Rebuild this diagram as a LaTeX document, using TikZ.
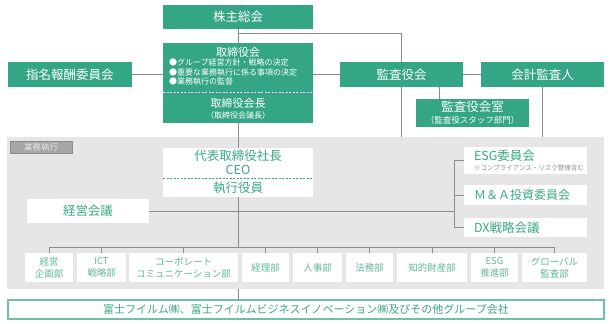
\documentclass[tikz,border=0pt]{standalone}
\usepackage{fontspec}
\setmainfont{Noto Sans CJK JP}
\definecolor{gfill}{RGB}{52,166,133}
\definecolor{gtext}{RGB}{58,168,134}
\definecolor{dtext}{RGB}{98,184,154}
\definecolor{lgray}{RGB}{140,140,140}
\definecolor{bggray}{RGB}{230,230,230}
\definecolor{lblgray}{RGB}{166,166,166}
\definecolor{cborder}{RGB}{110,194,163}
\newcommand{\fs}[1]{\fontsize{#1}{#1}\selectfont}
\newcommand{\fsb}[2]{\fontsize{#1}{#2}\selectfont}
\tikzset{
  box/.style={anchor=north west, inner sep=0pt, outer sep=0pt},
  gbox/.style={box, fill=gfill, text=white},
  wbox/.style={box, fill=white, text=gtext},
  dept/.style={box, fill=white, text=dtext, align=center, font=\fsb{9.5}{12}},
  conn/.style={draw=lgray, line width=1pt},
  txt/.style={inner sep=0pt, outer sep=0pt},
}
\begin{document}
\begin{tikzpicture}[x=1pt,y=-1pt]
\useasboundingbox (0,0) rectangle (611,324);
% gray area
\node[box, fill=bggray, minimum width=597, minimum height=152] (bg) at (7,137) {};
\node[box, fill=lblgray, draw=lgray, line width=0.6pt, minimum width=62, minimum height=12, text=bggray, font=\fs{8.5}] (lbl) at (10,141) {業務執行};

% top boxes
\node[gbox, minimum width=150, minimum height=24, font=\fs{12.5}] (kabu) at (163,5) {株主総会};
\node[gbox, minimum width=150, minimum height=80] (tori) at (163,43) {};
\node[gbox, minimum width=124, minimum height=25, font=\fs{12.5}] (shimei) at (8,62) {指名報酬委員会};
\node[gbox, minimum width=123, minimum height=25, font=\fs{12.5}] (kansa) at (340,62) {監査役会};
\node[gbox, minimum width=123, minimum height=25, font=\fs{12.5}] (kaikei) at (481,62) {会計監査人};
\node[gbox, minimum width=113, minimum height=28] (kshitsu) at (416,99) {};

% connectors top
\coordinate (j1) at (238,33);
\draw[conn] (kabu.south) -- (tori.north);
\draw[conn] (j1) -| (kansa.north);
\draw[conn] (shimei.east) -- (shimei.east -| tori.west);
\draw[conn] (kansa.west -| tori.east) -- (kansa.west);
\draw[conn] (kansa.east) -- (kaikei.west);
\draw[conn] ([xshift=38pt]kansa.south) -- ([xshift=38pt]kansa.south |- kshitsu.north);
\draw[conn] (kansa.south) -- (kansa.south |- bg.north);
\draw[conn] (kaikei.south) -- (kaikei.south |- bg.north);

% texts inside tori
\node[txt, text=white, font=\fs{11}] (toriT) at (238,52) {取締役会};
\node[txt, text=white, anchor=west, align=left, font=\fsb{8}{9.5}] (toriB) at (169,72.5) {●グループ経営方針・戦略の決定\\●重要な業務執行に係る事項の決定\\●業務執行の監督};
\draw[white, line width=0.7pt, dash pattern=on 2pt off 1.5pt] (tori.west |- 0,92) -- (tori.east |- 0,92);
\node[txt, text=white, font=\fs{11}] (kaicho) at (238,103) {取締役会長};
\node[txt, text=white, font=\fs{8}] (gicho) at (238,115) {（取締役会議長）};
\node[txt, text=white, font=\fs{12.5}] (kshT) at (472.5,107) {監査役会室};
\node[txt, text=white, font=\fs{8.5}] (kshS) at (472.5,120) {（監査役スタッフ部門）};

% executive
\coordinate (bar) at (238,247);
\draw[conn] (tori.south) -- (bar);
\node[wbox, minimum width=150, minimum height=49] (ceo) at (163,148) {};
\node[txt, text=gtext, font=\fs{12.5}] (ceo1) at (238,155.5) {代表取締役社長};
\node[txt, text=gtext, font=\fs{12.5}] (ceo2) at (238,170) {CEO};
\draw[gtext, line width=0.7pt, dash pattern=on 2pt off 1.5pt] (ceo.west |- 0,178) -- (ceo.east |- 0,178);
\node[txt, text=gtext, font=\fs{12.5}] (ceo3) at (238,188) {執行役員};

\node[wbox, minimum width=122, minimum height=24, font=\fs{12.5}] (keiei) at (27,199) {経営会議};
\node[wbox, minimum width=123, minimum height=27] (esg) at (464,147) {};
\node[txt, text=gtext, anchor=west, font=\fs{12.5}] (esgT) at (474,156) {ESG委員会};
\node[txt, text=lgray, anchor=west, font=\fs{6.5}] (esgS) at (474,168) {※コンプライアンス・リスク管理含む};
\node[wbox, minimum width=123, minimum height=20] (ma) at (464,185) {};
\node[txt, text=gtext, anchor=west, font=\fs{12}] (maT) at (474,195) {Ｍ＆Ａ投資委員会};
\node[wbox, minimum width=123, minimum height=19] (dx) at (464,218) {};
\node[txt, text=gtext, anchor=west, font=\fs{12.5}] (dxT) at (474,227.5) {DX戦略会議};
\coordinate (brk) at (454,211);
\draw[conn] (keiei.east) -- (keiei.east -| brk);
\draw[conn] (esg.west) -- ++(-10,0) |- (dx.west);
\draw[conn] (ma.west) -- ++(-10,0);

% departments
\node[dept, minimum width=48, minimum height=29] (d1) at (25,253) {経営\\企画部};
\node[dept, minimum width=49, minimum height=29] (d2) at (77,253) {ICT\\戦略部};
\node[dept, minimum width=109, minimum height=29] (d3) at (129,253) {コーポレート\\コミュニケーション部};
\node[dept, minimum width=47, minimum height=29] (d4) at (242,253) {経理部};
\node[dept, minimum width=49, minimum height=29] (d5) at (293,253) {人事部};
\node[dept, minimum width=47, minimum height=29] (d6) at (346,253) {法務部};
\node[dept, minimum width=70, minimum height=29] (d7) at (397,253) {知的財産部};
\node[dept, minimum width=47, minimum height=29] (d8) at (471,253) {ESG\\推進部};
\node[dept, minimum width=65, minimum height=29] (d9) at (522,253) {グローバル\\監査部};
\draw[conn] (d1.north |- bar) -- (d9.north |- bar);
\foreach \d in {d1,d2,d3,d4,d5,d6,d7,d8,d9} {\draw[conn] (\d.north) -- (\d.north |- bar);}

% company
\node[box, fill=white, draw=cborder, line width=1.3pt, minimum width=596, minimum height=19, text=gtext, font=\fs{11}] (comp) at (8,300) {富士フイルム㈱、富士フイルムビジネスイノベーション㈱及びその他グループ会社};
\draw[conn] (bar |- bg.south) -- (bar |- comp.north);
\end{tikzpicture}
\end{document}
